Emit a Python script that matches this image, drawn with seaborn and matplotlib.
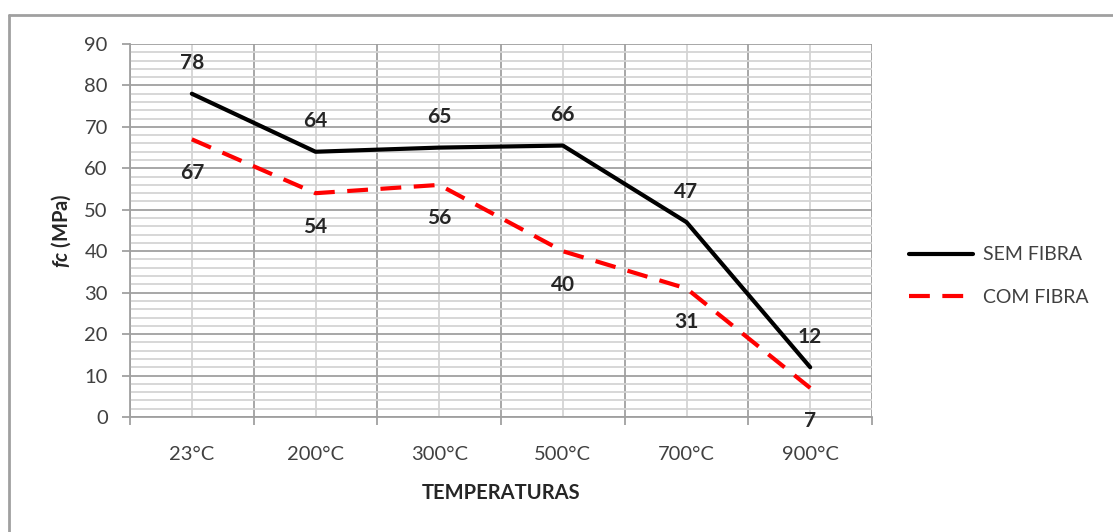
import pandas as pd
import matplotlib
matplotlib.use("Agg")
import matplotlib.pyplot as plt
from matplotlib.ticker import MultipleLocator, FixedLocator
from matplotlib.lines import Line2D
import seaborn as sns

temperaturas = ["23°C", "200°C", "300°C", "500°C", "700°C", "900°C"]
sem_fibra = [78, 64, 65, 65.5, 47, 12]
com_fibra = [67, 54, 56, 40, 31, 7]
sem_labels = ["78", "64", "65", "66", "47", "12"]
com_labels = ["67", "54", "56", "40", "31", "7"]

df = pd.DataFrame({
    "Temperatura": temperaturas * 2,
    "fc": sem_fibra + com_fibra,
    "Serie": ["SEM FIBRA"] * 6 + ["COM FIBRA"] * 6,
})

sns.set_style("white")
plt.rcParams["font.family"] = ["Lato", "DejaVu Sans"]
plt.rcParams["mathtext.fontset"] = "custom"
plt.rcParams["mathtext.bfit"] = "Lato:italic:bold"
plt.rcParams["mathtext.rm"] = "Lato"

fig = plt.figure(figsize=(11.13, 5.32), dpi=100)
ax = fig.add_axes([0.1168, 0.2162, 0.6667, 0.7011])

sns.lineplot(data=df, x="Temperatura", y="fc", hue="Serie", style="Serie",
             palette={"SEM FIBRA": "black", "COM FIBRA": "#ff0000"},
             dashes={"SEM FIBRA": "", "COM FIBRA": (5, 3)},
             linewidth=3, sort=False, ax=ax)

# data labels
for i, (v, lab) in enumerate(zip(sem_fibra, sem_labels)):
    ax.annotate(lab, (i, v), xytext=(0, 22), textcoords="offset points",
                ha="center", va="center", fontsize=15, fontweight="bold", color="#262626")
for i, (v, lab) in enumerate(zip(com_fibra, com_labels)):
    ax.annotate(lab, (i, v), xytext=(0, -24), textcoords="offset points",
                ha="center", va="center", fontsize=15, fontweight="bold", color="#262626")

ax.set_xlim(-0.5, 5.5)
ax.set_ylim(0, 90)
ax.yaxis.set_major_locator(MultipleLocator(10))
ax.yaxis.set_minor_locator(MultipleLocator(2))
ax.xaxis.set_minor_locator(FixedLocator([i - 0.5 for i in range(len(temperaturas) + 1)]))

ax.grid(True, which="major", axis="y", color="#a0a0a0", linewidth=1.3)
ax.grid(True, which="minor", axis="y", color="#d4d4d4", linewidth=1.3)
ax.grid(True, which="minor", axis="x", color="#a0a0a0", linewidth=1.3)
ax.grid(True, which="major", axis="x", color="#d4d4d4", linewidth=1.3)
ax.set_axisbelow(True)

ax.tick_params(axis="x", which="major", length=0, pad=21, labelsize=14.5, labelcolor="#404040")
ax.tick_params(axis="x", which="minor", length=6, width=1.3, color="#a0a0a0", bottom=True)
ax.tick_params(axis="y", which="major", length=6, width=1.3, color="#a0a0a0", left=True,
               pad=10, labelsize=14.5, labelcolor="#404040")
ax.tick_params(axis="y", which="minor", length=0)

for s in ax.spines.values():
    s.set_color("#a0a0a0")
    s.set_linewidth(1.3)
ax.spines["top"].set_visible(False)
ax.spines["right"].set_visible(False)

ax.set_xlabel("TEMPERATURAS", fontsize=14.5, fontweight="bold", color="#262626", labelpad=14)
ax.set_ylabel(r"$\mathbfit{fc}$ (MPa)", fontsize=14.5, fontweight="bold", color="#262626", labelpad=8)

ax.legend_.remove()
handles = [Line2D([], [], color="black", linewidth=3),
           Line2D([], [], color="#ff0000", linewidth=3, dashes=(5, 3))]
fig.legend(handles, ["SEM FIBRA", "COM FIBRA"], loc="center left",
           bbox_to_anchor=(0.817, 0.481), frameon=False, fontsize=14,
           handlelength=3.3, handletextpad=0.5, labelspacing=1.3,
           borderpad=0, borderaxespad=0, labelcolor="#404040")

# outer chart frame
fig.add_artist(Line2D([0.0081, 1.0], [0.9718, 0.9718], color="#a0a0a0", linewidth=2))
fig.add_artist(Line2D([0.0081, 0.0081], [0.0, 0.9718], color="#a0a0a0", linewidth=2))

fig.savefig("out.png", dpi=100)
